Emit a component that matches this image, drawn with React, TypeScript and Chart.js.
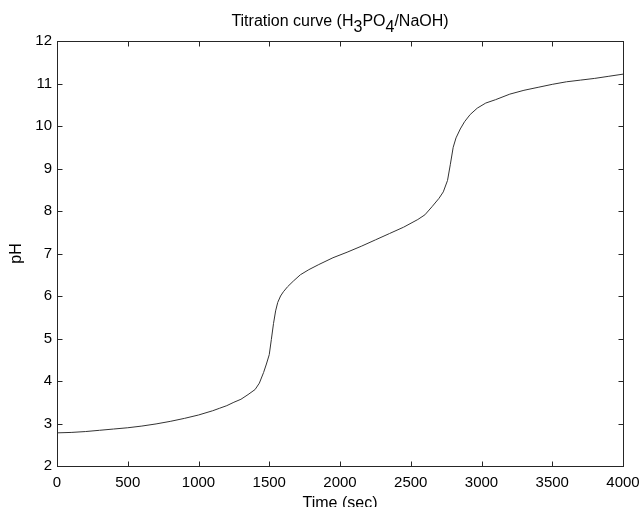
import React, { useEffect, useRef } from 'react';
import { Chart, registerables } from 'chart.js';

Chart.register(...registerables);

// Time in seconds
const timeSec = [
  0, 100, 200, 300, 400, 500, 600, 700, 800, 900, 1000, 1100, 1150, 1200, 1250,
  1300, 1350, 1400, 1430, 1460, 1480, 1500, 1515, 1530, 1545, 1560, 1580, 1600,
  1630, 1670, 1720, 1780, 1850, 1950, 2050, 2150, 2250, 2350, 2450, 2550, 2600,
  2650, 2700, 2730, 2760, 2780, 2800, 2820, 2850, 2880, 2920, 2970, 3030, 3100,
  3200, 3300, 3400, 3500, 3600, 3700, 3800, 3900, 4000,
];

// Measured pH
const pHValues = [
  2.78, 2.79, 2.81, 2.84, 2.87, 2.9, 2.94, 2.99, 3.05, 3.12, 3.2, 3.3, 3.36, 3.42, 3.5,
  3.57, 3.68, 3.8, 3.95, 4.2, 4.4, 4.62, 4.98, 5.35, 5.65, 5.85, 6.0, 6.1,
  6.22, 6.35, 6.5, 6.62, 6.74, 6.9, 7.03, 7.17, 7.32, 7.47, 7.62, 7.8, 7.91,
  8.1, 8.3, 8.45, 8.72, 9.1, 9.5, 9.72, 9.93, 10.1, 10.27, 10.42, 10.54, 10.62,
  10.75, 10.84, 10.91, 10.98, 11.04, 11.08, 11.12, 11.17, 11.22,
];

const xMin = 0;
const xMax = 4000;
const xStep = 500;
const yMin = 2;
const yMax = 12;
const yStep = 1;

const titleParts: [string, boolean][] = [
  ['Titration curve (H', false],
  ['3', true],
  ['PO', false],
  ['4', true],
  ['/NaOH)', false],
];
const xLabel = 'Time (sec)';
const yLabel = 'pH';

const FONT = '"Liberation Sans", Arial, Helvetica, sans-serif';

const framePlugin = {
  id: 'matlabFrame',
  afterDraw(chart: any) {
    const { ctx, chartArea: a, scales } = chart;
    const xs = scales.x;
    const ys = scales.y;
    ctx.save();
    ctx.strokeStyle = '#262626';
    ctx.lineWidth = 1;
    const L = Math.round(a.left) + 0.5;
    const R = Math.round(a.right) + 0.5;
    const T = Math.round(a.top) + 0.5;
    const B = Math.round(a.bottom) + 0.5;
    ctx.strokeRect(L, T, R - L, B - T);
    const len = 5;
    ctx.beginPath();
    xs.ticks.forEach((t: any) => {
      const px = Math.round(xs.getPixelForValue(t.value)) + 0.5;
      ctx.moveTo(px, B);
      ctx.lineTo(px, B - len);
      ctx.moveTo(px, T);
      ctx.lineTo(px, T + len);
    });
    ys.ticks.forEach((t: any) => {
      const py = Math.round(ys.getPixelForValue(t.value)) + 0.5;
      ctx.moveTo(L, py);
      ctx.lineTo(L + len, py);
      ctx.moveTo(R, py);
      ctx.lineTo(R - len, py);
    });
    ctx.stroke();

    // Title with subscripts
    ctx.fillStyle = '#000';
    ctx.font = `16px ${FONT}`;
    ctx.textBaseline = 'alphabetic';
    ctx.textAlign = 'left';
    const total = titleParts.reduce((s, [t]) => s + ctx.measureText(t).width, 0);
    let cx = (a.left + a.right) / 2 - total / 2;
    const baseY = 26;
    titleParts.forEach(([t, sub]) => {
      ctx.fillText(t, cx, sub ? baseY + 5.5 : baseY);
      cx += ctx.measureText(t).width;
    });
    ctx.restore();
  },
};

export default function App() {
  const ref = useRef<HTMLCanvasElement>(null);
  useEffect(() => {
    if (!ref.current) return;
    const data = timeSec.map((t, i) => ({ x: t, y: pHValues[i] }));
    const chart = new Chart(ref.current, {
      type: 'line',
      data: {
        datasets: [
          {
            label: 'pH',
            data,
            borderColor: '#333333',
            borderWidth: 1,
            pointRadius: 0,
            tension: 0,
            fill: false,
          },
        ],
      },
      options: {
        animation: false,
        responsive: false,
        devicePixelRatio: 1,
        layout: { padding: { top: 41, right: 17, left: 0, bottom: 0 } },
        plugins: {
          legend: { display: false },
          tooltip: { enabled: false },
          title: { display: false },
        },
        scales: {
          x: {
            type: 'linear',
            min: xMin,
            max: xMax,
            ticks: {
              stepSize: xStep,
              color: '#000',
              font: { family: FONT, size: 15 },
              padding: 8,
              maxRotation: 0,
              autoSkip: false,
              callback: (v: any) => String(v),
            },
            grid: { display: false, drawTicks: false },
            border: { display: false },
            title: {
              display: true,
              text: xLabel,
              color: '#000',
              font: { family: FONT, size: 16 },
              padding: { top: 0, bottom: -6 },
            },
            afterFit: (s: any) => {
              s.height = 41;
              s.paddingLeft = 0;
              s.paddingRight = 0;
            },
          },
          y: {
            type: 'linear',
            min: yMin,
            max: yMax,
            ticks: {
              stepSize: yStep,
              color: '#000',
              font: { family: FONT, size: 15 },
              padding: 5,
              callback: (v: any) => String(v),
            },
            grid: { display: false, drawTicks: false },
            border: { display: false },
            title: {
              display: true,
              text: yLabel,
              color: '#000',
              font: { family: FONT, size: 16 },
              padding: { top: 7, bottom: 0 },
            },
            afterFit: (s: any) => {
              s.width = 57;
              s.paddingTop = 0;
              s.paddingBottom = 0;
            },
          },
        },
      },
      plugins: [framePlugin],
    });
    return () => chart.destroy();
  }, []);
  return (
    <div style={{ position: 'absolute', left: 0, top: 0, width: 640, height: 507 }}>
      <canvas ref={ref} width={640} height={507} style={{ display: 'block' }} />
    </div>
  );
}
